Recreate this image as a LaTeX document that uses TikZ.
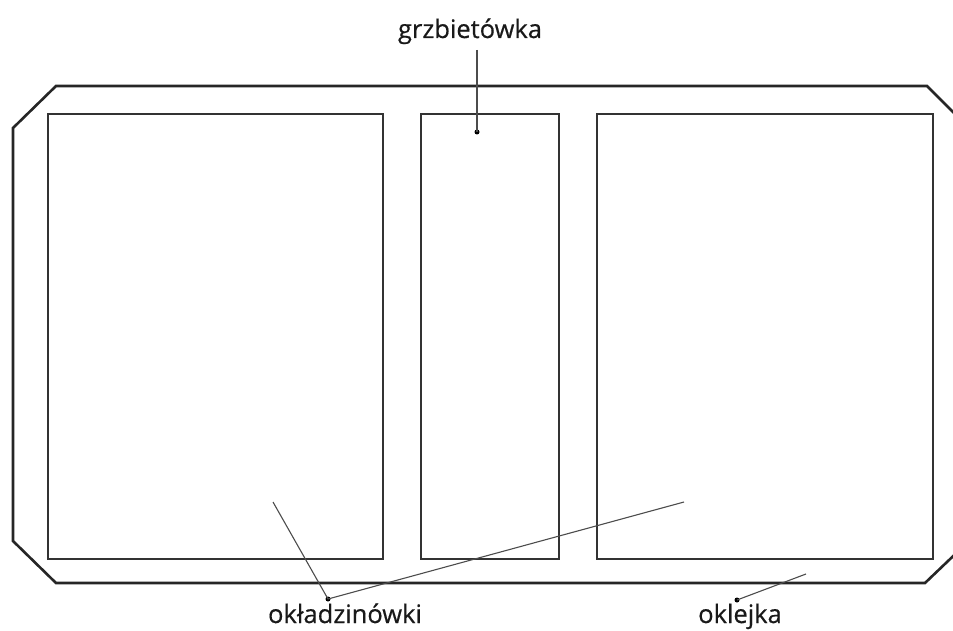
\documentclass[tikz,border=0pt]{standalone}
\usepackage{fontspec}
\setmainfont{Open Sans}
\newfontfamily\lblfont{Open Sans}[FakeBold=0.5]
\begin{document}
\begin{tikzpicture}[x=1pt,y=-1pt,
  outer/.style={line width=2.6pt,color=black!85},
  panel/.style={line width=2.2pt,color=black!80},
  leader/.style={line width=1.1pt,color=black!70},
  lbl/.style={font=\lblfont\fontsize{25.5}{30}\selectfont,text=black!90,inner sep=0pt,anchor=base},
  dotmark/.style={circle,fill=black,inner sep=0pt,minimum size=5pt}]
\useasboundingbox (0,0) rectangle (953,631);
\begin{scope}
\clip (0,0) rectangle (953,631);
\draw[outer] (56,86) -- (927,86) -- (970,129) -- (970,540) -- (925,583) -- (56,583) -- (13,541) -- (13,128) -- cycle;
\end{scope}
\draw[panel] (48,114) rectangle (383,559);
\draw[panel] (421,114) rectangle (559,559);
\draw[panel] (597,114) rectangle (933,559);
% labels
\node[lbl] (g) at (470,38) {grzbietówka};
\node[lbl] (o) at (345,623) {okładzinówki};
\node[lbl] (k) at (740,623) {oklejka};
% leader points
\node[dotmark] (gd) at (477,132) {};
\coordinate (gt) at (477,50);
\node[dotmark] (od) at (328,599) {};
\coordinate (oa) at (273,502);
\coordinate (ob) at (684,502);
\node[dotmark] (kd) at (737,600) {};
\coordinate (ka) at (806,574);
\draw[leader] (gt) -- (gd.center);
\draw[leader] (oa) -- (od.center) -- (ob);
\draw[leader] (kd.center) -- (ka);
\end{tikzpicture}
\end{document}
